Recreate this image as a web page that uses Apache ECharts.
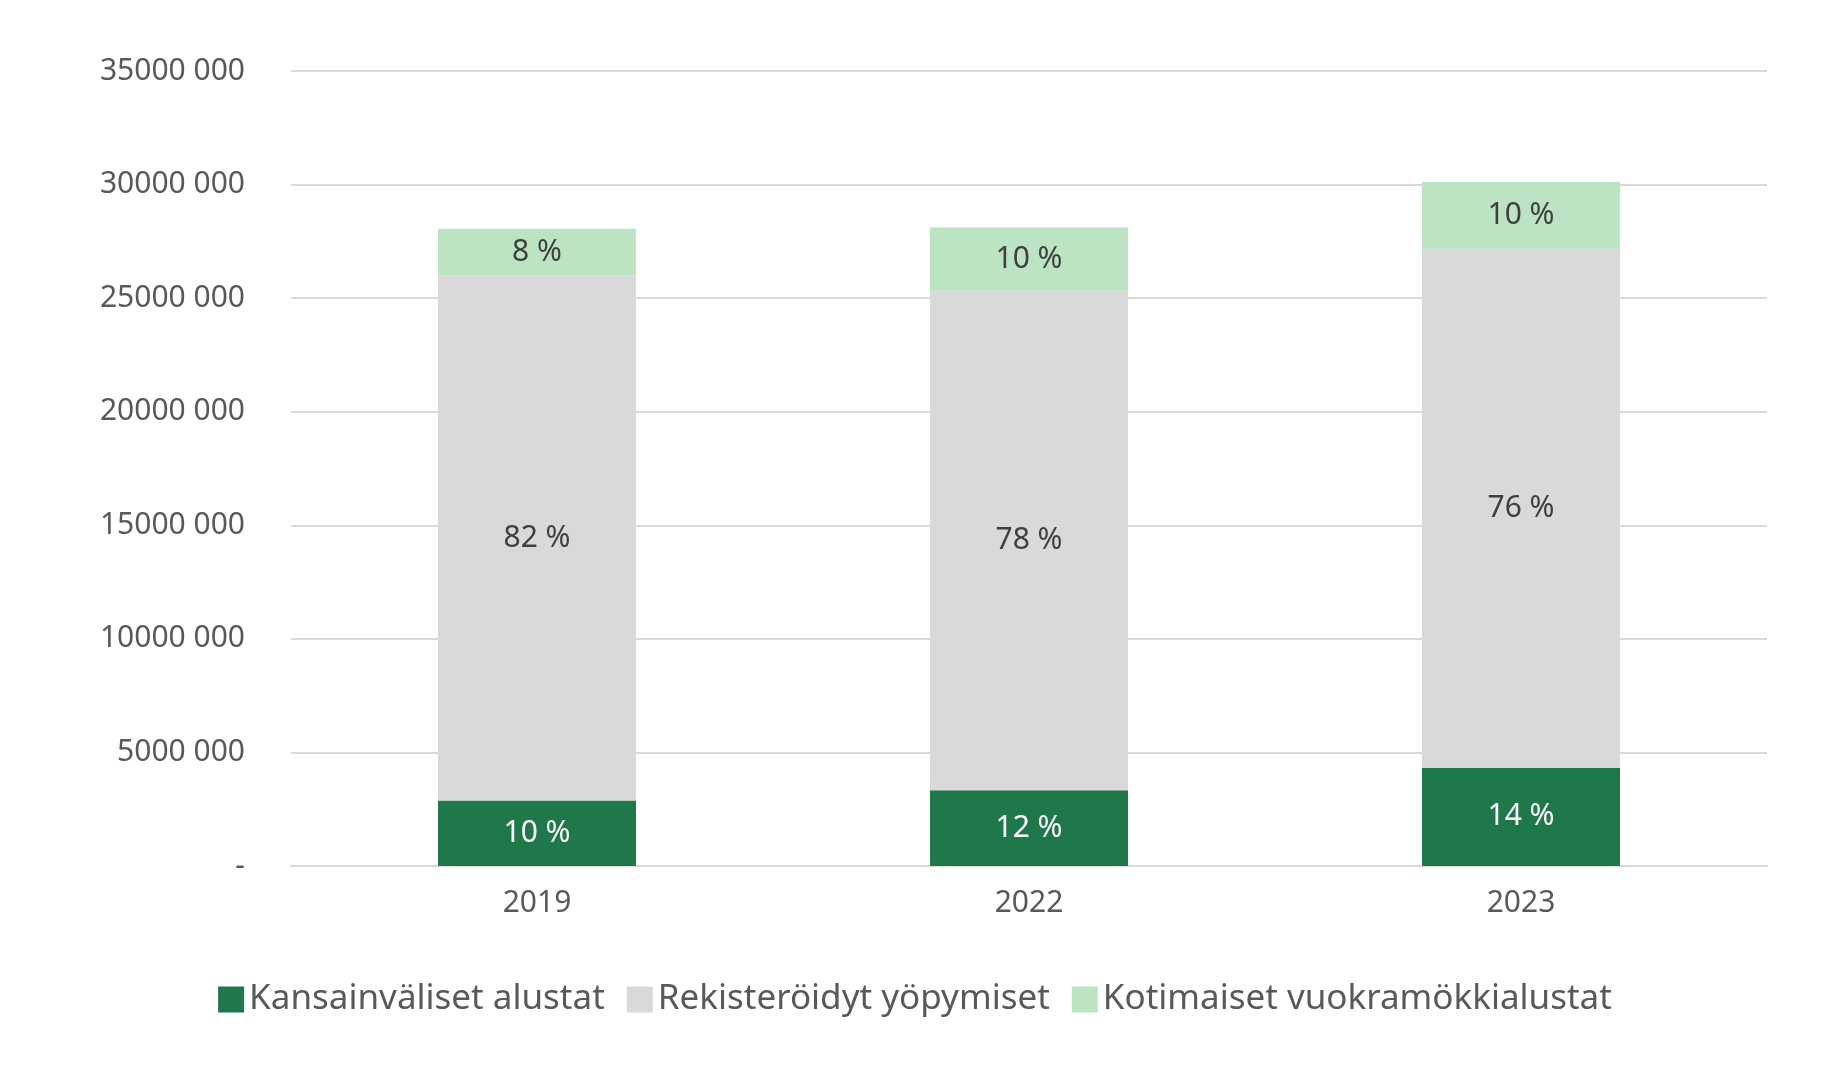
<!DOCTYPE html>
<html><head><meta charset="utf-8">
<script src="https://cdn.jsdelivr.net/npm/echarts@6/dist/echarts.min.js"></script>
<style>html,body{margin:0;padding:0;background:#fff}#c{width:1830px;height:1084px}</style>
</head><body><div id="c"></div>
<script>
const categories = ['2019','2022','2023'];
const seriesNames = ['Kansainväliset alustat','Rekisteröidyt yöpymiset','Kotimaiset vuokramökkialustat'];
const intl = [2880000, 3340000, 4320000];
const reg = [23120000, 21990000, 22860000];
const dom = [2060000, 2780000, 2930000];
const intlPct = ['10 %','12 %','14 %'];
const regPct = ['82 %','78 %','76 %'];
const domPct = ['8 %','10 %','10 %'];
const colors = ['#1e7849','#d9d9d9','#bde4c2'];
const font = 'Noto Sans';
function fmt(v){ if(v===0) return '-'; const s=String(v); return s.slice(0,s.length-3)+' '+s.slice(-3); }
function mk(name,data,pct,color,lc){
  return {name,type:'bar',stack:'a',data,barWidth:198,itemStyle:{color},
    label:{show:true,position:'inside',color:lc,fontSize:30,fontFamily:font,formatter:p=>pct[p.dataIndex]}};
}
const chart = echarts.init(document.getElementById('c'));
chart.setOption({
  animation:false,
  grid:{left:291,right:63,top:71,bottom:218},
  legend:{bottom:62,left:'center',itemWidth:26,itemHeight:26,itemGap:22,icon:'rect',
    textStyle:{fontSize:35,color:'#595959',fontFamily:font}},
  xAxis:{type:'category',data:categories,axisTick:{show:false},
    axisLine:{lineStyle:{color:'#d9d9d9',width:2}},
    axisLabel:{fontSize:30,color:'#595959',fontFamily:font,margin:22}},
  yAxis:{type:'value',min:0,max:35000000,interval:5000000,
    splitLine:{lineStyle:{color:'#d9d9d9',width:2}},
    axisLabel:{fontSize:30,color:'#595959',fontFamily:font,margin:46,formatter:fmt}},
  series:[mk(seriesNames[0],intl,intlPct,colors[0],'#ffffff'),
          mk(seriesNames[1],reg,regPct,colors[1],'#404040'),
          mk(seriesNames[2],dom,domPct,colors[2],'#404040')]
});
</script></body></html>
